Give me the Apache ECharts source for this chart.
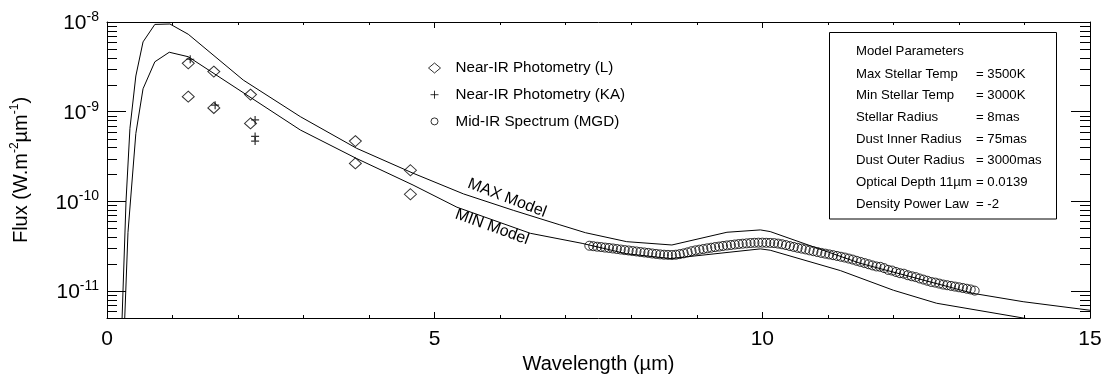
<!DOCTYPE html>
<html>
<head>
<meta charset="utf-8">
<script src="https://cdn.jsdelivr.net/npm/echarts@6/dist/echarts.min.js"></script>
<style>
  html, body { margin: 0; padding: 0; background: #fff; }
  #chart { width: 1104px; height: 375px; }
</style>
</head>
<body>
<div id="chart"></div>
<script>
const FONT = "'Liberation Sans', Arial, Helvetica, sans-serif";

// model curves (wavelength in um, flux in W.m-2.um-1)
const maxModelWl = [0.22, 0.29, 0.35, 0.44, 0.55, 0.73, 0.96, 1.24, 2.08, 2.95, 3.81, 4.67, 5.44, 6.2, 6.9, 7.3, 7.93, 8.62, 9.46, 9.97, 10.12, 11.49, 13.22, 13.98, 15];
const maxModelFlux = [3e-12, 1.0e-10, 6.5e-10, 2.5e-9, 6.0e-9, 9.4e-9, 9.5e-9, 7.3e-9, 2.25e-9, 8.8e-10, 3.9e-10, 2.06e-10, 1.21e-10, 7.94e-11, 5.5e-11, 4.47e-11, 3.55e-11, 3.26e-11, 4.52e-11, 4.8e-11, 4.6e-11, 2.04e-11, 9.4e-12, 7.6e-12, 6.1e-12];
const minModelWl = [0.25, 0.32, 0.44, 0.55, 0.73, 0.95, 1.24, 2.95, 3.81, 4.67, 5.34, 6.46, 7.25, 7.93, 8.6, 9.97, 10.12, 11.19, 12.0, 12.66, 13.98, 15];
const minModelFlux = [2e-12, 4.5e-11, 5.7e-10, 1.8e-9, 3.6e-9, 4.6e-9, 4.1e-9, 6.25e-10, 3.0e-10, 1.52e-10, 8.6e-11, 4.4e-11, 3.4e-11, 2.6e-11, 2.3e-11, 2.95e-11, 2.85e-11, 1.69e-11, 1.02e-11, 7.3e-12, 5.0e-12, 3.8e-12];

// Near-IR photometry (L)
const photLWl = [1.24, 1.24, 1.63, 1.63, 2.19, 2.19, 3.79, 3.79, 4.63, 4.63];
const photLFlux = [3.46e-9, 1.47e-9, 2.8e-9, 1.1e-9, 1.55e-9, 7.4e-10, 4.7e-10, 2.65e-10, 2.22e-10, 1.2e-10];

// Near-IR photometry (KA)
const photKaWl = [1.27, 1.65, 2.26, 2.26, 2.26];
const photKaFlux = [3.84e-9, 1.18e-9, 8.1e-10, 5.3e-10, 4.7e-10];

// Mid-IR spectrum (MGD)
const midIrWl = [
  7.36, 7.42, 7.48, 7.54, 7.60, 7.66, 7.72, 7.78, 7.84, 7.90,
  7.96, 8.02, 8.08, 8.14, 8.20, 8.26, 8.32, 8.38, 8.44, 8.50,
  8.56, 8.62, 8.68, 8.74, 8.80, 8.86, 8.92, 8.98, 9.04, 9.10,
  9.16, 9.22, 9.28, 9.34, 9.40, 9.46, 9.52, 9.58, 9.64, 9.70,
  9.76, 9.82, 9.88, 9.94, 10.00, 10.06, 10.12, 10.18, 10.24, 10.30,
  10.36, 10.42, 10.48, 10.54, 10.60, 10.66, 10.72, 10.78, 10.84, 10.90,
  10.96, 11.02, 11.08, 11.14, 11.20, 11.26, 11.32, 11.38, 11.44, 11.50,
  11.56, 11.62, 11.68, 11.74, 11.80, 11.86, 11.92, 11.98, 12.04, 12.10,
  12.16, 12.22, 12.28, 12.34, 12.40, 12.46, 12.52, 12.58, 12.64, 12.70,
  12.76, 12.82, 12.88, 12.94, 13.00, 13.06, 13.12, 13.18, 13.24
];
const midIrFlux = [
  3.20e-11, 3.16e-11, 3.12e-11, 3.09e-11, 3.05e-11, 3.02e-11, 2.98e-11, 2.94e-11, 2.90e-11, 2.86e-11,
  2.83e-11, 2.79e-11, 2.76e-11, 2.72e-11, 2.69e-11, 2.66e-11, 2.62e-11, 2.59e-11, 2.56e-11, 2.54e-11,
  2.53e-11, 2.52e-11, 2.54e-11, 2.58e-11, 2.63e-11, 2.70e-11, 2.78e-11, 2.84e-11, 2.89e-11, 2.94e-11,
  2.99e-11, 3.04e-11, 3.09e-11, 3.13e-11, 3.18e-11, 3.22e-11, 3.26e-11, 3.30e-11, 3.34e-11, 3.37e-11,
  3.40e-11, 3.43e-11, 3.45e-11, 3.46e-11, 3.46e-11, 3.45e-11, 3.44e-11, 3.42e-11, 3.38e-11, 3.32e-11,
  3.25e-11, 3.17e-11, 3.10e-11, 3.03e-11, 2.97e-11, 2.91e-11, 2.84e-11, 2.78e-11, 2.72e-11, 2.66e-11,
  2.61e-11, 2.56e-11, 2.51e-11, 2.46e-11, 2.41e-11, 2.36e-11, 2.30e-11, 2.24e-11, 2.17e-11, 2.11e-11,
  2.05e-11, 1.99e-11, 1.93e-11, 1.88e-11, 1.86e-11, 1.80e-11, 1.72e-11, 1.69e-11, 1.63e-11, 1.58e-11,
  1.56e-11, 1.50e-11, 1.46e-11, 1.43e-11, 1.38e-11, 1.34e-11, 1.30e-11, 1.26e-11, 1.24e-11, 1.21e-11,
  1.18e-11, 1.16e-11, 1.14e-11, 1.12e-11, 1.10e-11, 1.08e-11, 1.06e-11, 1.04e-11, 1.01e-11
];

// log axis minor ticks
const yMinorTicks = [
  6e-12, 7e-12, 8e-12, 9e-12,
  2e-11, 3e-11, 4e-11, 5e-11, 6e-11, 7e-11, 8e-11, 9e-11,
  2e-10, 3e-10, 4e-10, 5e-10, 6e-10, 7e-10, 8e-10, 9e-10,
  2e-9, 3e-9, 4e-9, 5e-9, 6e-9, 7e-9, 8e-9, 9e-9
];

const paramLabels = ['Max Stellar Temp', 'Min Stellar Temp', 'Stellar Radius', 'Dust Inner Radius', 'Dust Outer Radius', 'Optical Depth 11\u00b5m', 'Density Power Law'];
const paramValues = ['= 3500K', '= 3000K', '= 8mas', '= 75mas', '= 3000mas', '= 0.0139', '= -2'];

const names = ['Near-IR Photometry (L)', 'Near-IR Photometry (KA)', 'Mid-IR Spectrum (MGD)'];

const zip = (a, b) => a.map((v, i) => [v, b[i]]);
const black = '#000';
const noFill = 'rgba(0,0,0,0)';

const chart = echarts.init(document.getElementById('chart'));

function yLabel(v) {
  const e = Math.log10(v);
  const r = Math.round(e);
  if (Math.abs(e - r) > 1e-6) return '';
  return '{b|10}{s|' + r + '}';
}

const xAxisBase = {
  type: 'value', min: 0, max: 15, interval: 5,
  axisLine: { show: true, onZero: false, lineStyle: { color: black, width: 1 } },
  axisTick: { show: true, inside: true, length: 6, lineStyle: { color: black } },
  minorTick: { show: true, splitNumber: 5, length: 3, lineStyle: { color: black } },
  splitLine: { show: false },
  minorSplitLine: { show: false }
};
const yAxisBase = {
  type: 'log', logBase: 10, min: 5e-12, max: 1e-8,
  axisLine: { show: true, onZero: false, lineStyle: { color: black, width: 1 } },
  axisTick: { show: true, inside: true, length: 19, lineStyle: { color: black } },
  splitLine: { show: false }
};

const boxFont = '13.2px ' + FONT;
const graphics = [
  {
    type: 'rect', shape: { x: 829.5, y: 32.5, width: 227, height: 186.5 },
    style: { fill: noFill, stroke: black, lineWidth: 1 }, silent: true
  },
  {
    type: 'text', x: 856, y: 51,
    style: { text: 'Model Parameters', font: boxFont, fill: black, verticalAlign: 'middle' }
  },
  {
    type: 'text', x: 507, y: 198, rotation: -0.367,
    style: { text: 'MAX Model', font: '16px ' + FONT, fill: black, align: 'center', verticalAlign: 'middle' }
  },
  {
    type: 'text', x: 492, y: 227, rotation: -0.35,
    style: { text: 'MIN Model', font: '16px ' + FONT, fill: black, align: 'center', verticalAlign: 'middle' }
  }
];
paramLabels.forEach((t, i) => {
  const y = 74 + i * 21.7;
  graphics.push({ type: 'text', x: 856, y: y, style: { text: t, font: boxFont, fill: black, verticalAlign: 'middle' } });
  graphics.push({ type: 'text', x: 976, y: y, style: { text: paramValues[i], font: boxFont, fill: black, verticalAlign: 'middle' } });
});

const option = {
  animation: false,
  backgroundColor: '#fff',
  textStyle: { fontFamily: FONT, color: black },
  grid: { left: 107, right: 14, top: 22, bottom: 57, containLabel: false, outerBoundsMode: 'none' },
  legend: {
    orient: 'vertical', left: 423, top: 55,
    itemWidth: 12, itemHeight: 12, itemGap: 10.7,
    selectedMode: false,
    textStyle: { fontSize: 15.2, fontFamily: FONT, color: black, lineHeight: 16, padding: [0, 0, 0, 10] },
    data: [
      { name: names[0], icon: 'path://M0,5L6,0L12,5L6,10Z', itemStyle: { color: noFill, borderColor: black, borderWidth: 1 } },
      { name: names[1], icon: 'path://M0,0M12,12M2,6L10,6M6,2L6,10', itemStyle: { color: noFill, borderColor: black, borderWidth: 1 } },
      { name: names[2], icon: 'path://M0,0M12,12M9.5,6A3.5,3.5,0,1,1,2.5,6A3.5,3.5,0,1,1,9.5,6Z', itemStyle: { color: noFill, borderColor: black, borderWidth: 1 } }
    ]
  },
  xAxis: [
    Object.assign({}, xAxisBase, {
      position: 'bottom',
      axisLabel: { show: true, fontSize: 21, color: black, margin: 11, fontFamily: FONT },
      name: 'Wavelength (\u00b5m)', nameLocation: 'middle', nameGap: 30,
      nameTextStyle: { fontSize: 20, color: black, fontFamily: FONT }
    }),
    Object.assign({}, xAxisBase, { position: 'top', axisLabel: { show: false } })
  ],
  yAxis: [
    Object.assign({}, yAxisBase, {
      position: 'left',
      axisLabel: {
        show: true, margin: 8, formatter: yLabel, showMinLabel: false,
        rich: {
          b: { fontSize: 21, lineHeight: 24, verticalAlign: 'bottom', color: black, fontFamily: FONT },
          s: { fontSize: 14, lineHeight: 14, verticalAlign: 'top', color: black, fontFamily: FONT }
        }
      },
      name: '{a|Flux (W.m}{s|-2}{a|\u00b5m}{s|-1}{a|)}',
      nameLocation: 'middle', nameRotate: 90, nameGap: 76,
      nameTextStyle: {
        rich: {
          a: { fontSize: 20, lineHeight: 22, verticalAlign: 'bottom', color: black, fontFamily: FONT },
          s: { fontSize: 12, lineHeight: 12, verticalAlign: 'top', color: black, fontFamily: FONT }
        }
      }
    }),
    Object.assign({}, yAxisBase, { position: 'right', axisLabel: { show: false } })
  ],
  graphic: graphics,
  series: [
    {
      name: 'MAX Model', type: 'line', data: zip(maxModelWl, maxModelFlux),
      showSymbol: false, symbol: 'none', lineStyle: { color: black, width: 1 }, silent: true
    },
    {
      name: 'MIN Model', type: 'line', data: zip(minModelWl, minModelFlux),
      showSymbol: false, symbol: 'none', lineStyle: { color: black, width: 1 }, silent: true
    },
    {
      name: names[0], type: 'scatter', data: zip(photLWl, photLFlux),
      symbol: 'diamond', symbolSize: [12, 11],
      itemStyle: { color: noFill, borderColor: black, borderWidth: 1 }
    },
    {
      name: names[1], type: 'scatter', data: zip(photKaWl, photKaFlux),
      symbol: 'path://M0,5L10,5M5,0L5,10', symbolSize: 8,
      itemStyle: { color: noFill, borderColor: black, borderWidth: 1.2 }
    },
    {
      name: names[2], type: 'scatter', data: zip(midIrWl, midIrFlux),
      symbol: 'circle', symbolSize: 9,
      itemStyle: { color: noFill, borderColor: black, borderWidth: 1 }
    },
    {
      name: 'minor ticks', type: 'custom', silent: true,
      data: yMinorTicks.map(v => [0, v]),
      renderItem: function (params, api) {
        const cs = params.coordSys;
        const y = Math.round(api.coord([0, api.value(1)])[1]) + 0.5;
        return {
          type: 'group',
          children: [
            { type: 'line', shape: { x1: cs.x, y1: y, x2: cs.x + 10, y2: y }, style: { stroke: black, lineWidth: 1 } },
            { type: 'line', shape: { x1: cs.x + cs.width - 10, y1: y, x2: cs.x + cs.width, y2: y }, style: { stroke: black, lineWidth: 1 } }
          ]
        };
      }
    }
  ]
};

chart.setOption(option);
</script>
</body>
</html>
